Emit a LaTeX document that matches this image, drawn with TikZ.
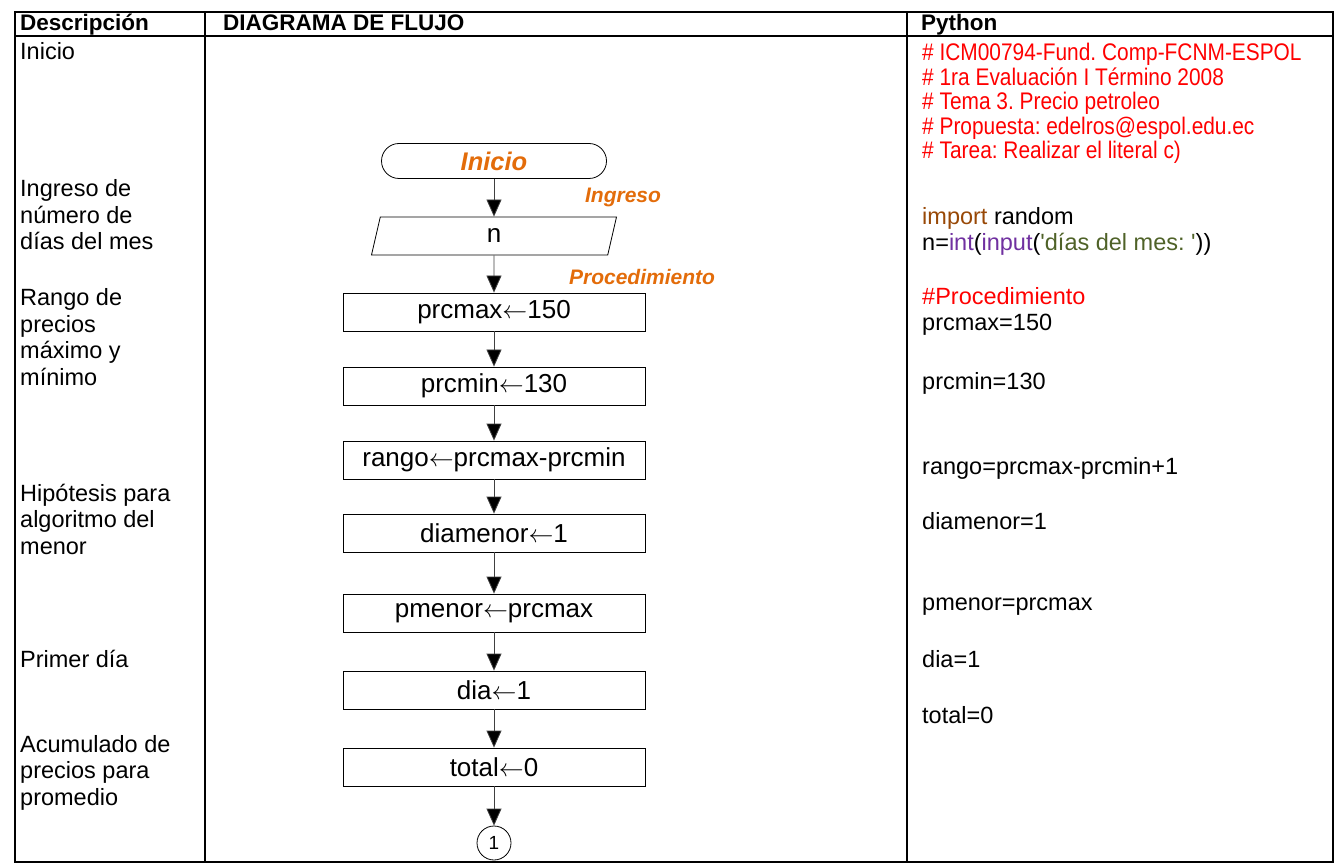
\documentclass[tikz,border=0pt]{standalone}
\usepackage{fontspec}
\setmainfont{Liberation Sans}
\newfontfamily\narrowfont[FakeStretch=0.87]{Liberation Sans}
\usetikzlibrary{shapes.geometric, arrows.meta}
\frenchspacing

\definecolor{flujo}{HTML}{E36C0A}
\definecolor{pyred}{HTML}{FF0000}
\definecolor{pybrown}{HTML}{984806}
\definecolor{pypurple}{HTML}{7030A0}
\definecolor{pygreen}{HTML}{4F6228}

\newcommand{\bodyfont}{\fontsize{23.5}{26.5}\selectfont}
\newcommand{\boxfont}{\fontsize{26}{28}\selectfont}
\newcommand{\cmtfont}{\narrowfont\fontsize{24}{24.5}\selectfont}
\newcommand{\headfont}{\fontsize{22.5}{25}\selectfont\bfseries}
\newcommand{\asig}{$\leftarrow$}

\tikzstyle{startstop} = [rectangle, rounded corners=17.5pt, minimum width=225pt, minimum height=35pt, text centered, draw=black, line width=0.8pt, font=\fontsize{25.5}{28}\selectfont\bfseries\itshape, text=flujo]
\tikzstyle{io} = [trapezium, trapezium left angle=64, trapezium right angle=116, trapezium stretches body, minimum width=245pt, minimum height=38pt, inner sep=2pt, text centered, draw=black, line width=0.8pt, font=\boxfont]
\tikzstyle{process} = [rectangle, minimum width=302pt, minimum height=38pt, inner sep=2pt, text centered, draw=black, line width=0.8pt, font=\boxfont]
\tikzstyle{connector} = [circle, minimum size=34pt, inner sep=0pt, draw=black, line width=0.8pt, font=\fontsize{19}{21}\selectfont]
\tikzstyle{tag} = [font=\fontsize{21}{24}\selectfont\bfseries\itshape, text=flujo, inner sep=0pt]
% base west = linea base de la ultima linea
\tikzstyle{desc} = [anchor=base west, align=left, inner sep=0pt, font=\bodyfont]
\tikzstyle{code} = [anchor=base west, align=left, inner sep=0pt, font=\bodyfont]
\tikzstyle{arrow} = [line width=0.8pt, draw=black!75, -{Triangle[width=15pt,length=17pt,fill=black]}]

\begin{document}
\begin{tikzpicture}[x=1pt, y=-1pt]
    \useasboundingbox (0,0) rectangle (1336,866);

    % tabla
    \draw [line width=1.6pt] (15,12) rectangle (1333,862);
    \draw [line width=1.6pt] (15,36) -- (1333,36);
    \draw [line width=1.6pt] (205,12) -- (205,862);
    \draw [line width=1.6pt] (907,12) -- (907,862);

    \node (hdesc) [anchor=base west, inner sep=0pt, font=\headfont] at (20,31) {Descripción};
    \node (hflujo) [anchor=base west, inner sep=0pt, font=\headfont] at (223,31) {DIAGRAMA DE FLUJO};
    \node (hpython) [anchor=base west, inner sep=0pt, font=\headfont] at (921,31) {Python};

    % descripcion
    \node (dinicio) [desc] at (20,60) {Inicio};
    \node (dingreso) [desc] at (20,250) {Ingreso de\\número de\\días del mes};
    \node (drango) [desc] at (20,385.5) {Rango de\\precios\\máximo y\\mínimo};
    \node (dhipo) [desc] at (20,554) {Hipótesis para\\algoritmo del\\menor};
    \node (dprimer) [desc] at (20,667) {Primer día};
    \node (dacum) [desc] at (20,805) {Acumulado de\\precios para\\promedio};

    % diagrama de flujo
    \node (inicio) [startstop] at (494,161) {Inicio};
    \node (entrada) [io] at (494,236) {n};
    \node (prcmax) [process] at (494,312) {prcmax\asig150};
    \node (prcmin) [process] at (494,386) {prcmin\asig130};
    \node (rango) [process] at (494,460) {rango\asig prcmax-prcmin};
    \node (diamenor) [process] at (494,533) {diamenor\asig1};
    \node (pmenor) [process] at (494,613) {pmenor\asig prcmax};
    \node (dia) [process] at (494,690) {dia\asig1};
    \node (total) [process] at (494,767) {total\asig0};
    \node (uno) [connector] at (494,843) {1};

    \node (tingreso) [tag] at (623,197) {Ingreso};
    \node (tproc) [tag] at (642,277) {Procedimiento};

    \draw [arrow] (inicio) -- (entrada);
    \draw [arrow] (entrada) -- (prcmax);
    \draw [arrow] (prcmax) -- (prcmin);
    \draw [arrow] (prcmin) -- (rango);
    \draw [arrow] (rango) -- (diamenor);
    \draw [arrow] (diamenor) -- (pmenor);
    \draw [arrow] (pmenor) -- (dia);
    \draw [arrow] (dia) -- (total);
    \draw [arrow] (total) -- (uno);

    % python
    \node (cabecera) [code, font=\cmtfont, text=pyred] at (922,159) {\# ICM00794-Fund. Comp-FCNM-ESPOL\\\# 1ra Evaluación I Término 2008\\\# Tema 3. Precio petroleo\\\# Propuesta: edelros@espol.edu.ec\\\# Tarea: Realizar el literal c)};
    \node (pimport) [code] at (922,225) {{\color{pybrown}import} random};
    \node (pinput) [code] at (922,251) {n={\color{pypurple}int}({\color{pypurple}input}({\color{pygreen}\textquotesingle días del mes: \textquotesingle}))};
    \node (pproc) [code, text=pyred] at (922,305) {\#Procedimiento};
    \node (pmax) [code] at (922,331) {prcmax=150};
    \node (pmin) [code] at (922,390) {prcmin=130};
    \node (prango) [code] at (922,474) {rango=prcmax-prcmin+1};
    \node (pdiamenor) [code] at (922,529) {diamenor=1};
    \node (ppmenor) [code] at (922,610) {pmenor=prcmax};
    \node (pdia) [code] at (922,667) {dia=1};
    \node (ptotal) [code] at (922,723) {total=0};

\end{tikzpicture}
\end{document}
